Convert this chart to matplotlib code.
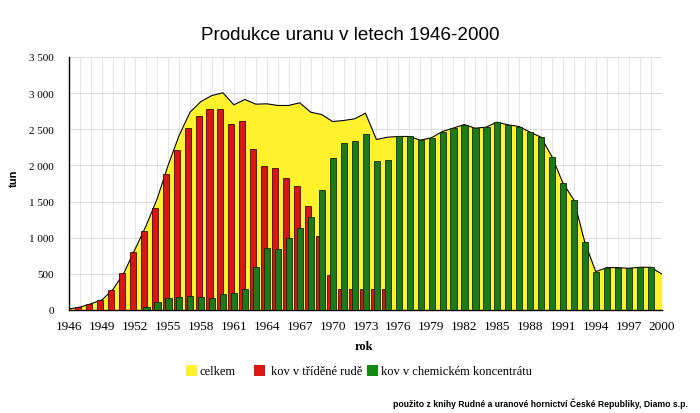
import matplotlib
matplotlib.use('Agg')
import matplotlib.pyplot as plt
from matplotlib.patches import Rectangle
from matplotlib.ticker import FuncFormatter
import numpy as np

years = list(range(1946, 2001))

celkem = [15, 41, 87, 143, 290, 521, 845, 1167, 1537, 2000,
          2413, 2736, 2884, 2967, 3004, 2838, 2912, 2847, 2852, 2829,
          2829, 2866, 2736, 2704, 2607, 2621, 2644, 2722, 2358, 2390,
          2400, 2400, 2349, 2381, 2468, 2515, 2565, 2515, 2529, 2598,
          2561, 2538, 2460, 2391, 2122, 1758, 1523, 937, 530, 586,
          586, 577, 591, 591, 500]

kov_ruda = [20, 37, 83, 138, 272, 512, 799, 1098, 1408, 1887,
            2219, 2524, 2690, 2783, 2783, 2575, 2621, 2229, 1989, 1962,
            1823, 1721, 1436, 1029, 485, 291, 290, 290, 290, 290,
            0, 0, 0, 0, 0, 0, 0, 0, 0, 0,
            0, 0, 0, 0, 0, 0, 0, 0, 0, 0,
            0, 0, 0, 0, 0]

kov_chem = [0, 0, 0, 0, 0, 0, 0, 35, 106, 162,
            185, 189, 180, 171, 222, 235, 291, 591, 854, 845,
            1001, 1135, 1287, 1665, 2109, 2312, 2344, 2432, 2058, 2081,
            2400, 2400, 2349, 2381, 2468, 2515, 2565, 2515, 2529, 2598,
            2561, 2538, 2460, 2391, 2122, 1758, 1523, 937, 530, 586,
            586, 577, 591, 591, 0]

x_ticks = list(range(1946, 2001, 3))
y_ticks = list(range(0, 3501, 500))

title = "Produkce uranu v letech 1946-2000"
legend_labels = ["celkem", "kov v tříděné rudě", "kov v chemickém koncentrátu"]
footer = "použito z knihy Rudné a uranové hornictví České Republiky, Diamo s.p."

YELLOW = "#FFF22C"
RED = "#DD1414"
GREEN = "#1C7A18"
LEG_GREEN = "#128A12"

fig = plt.figure(figsize=(7.0, 4.14), dpi=100)
fig.patch.set_facecolor("white")
ax = fig.add_axes([0.099, 0.2488, 0.8469, 0.6112])

yr = np.array(years, dtype=float)
tot = np.array(celkem, dtype=float)
red = np.array(kov_ruda, dtype=float)
grn = np.array(kov_chem, dtype=float)

ax.fill_between(yr, 0, tot, color=YELLOW, lw=0, zorder=2)
ax.plot(yr, tot, color="black", lw=0.8, zorder=2.5)

mr = red > 0
ax.bar(yr[mr] - 0.5, red[mr], width=0.55, align="edge", color=RED,
       edgecolor="#301000", linewidth=0.6, zorder=3)
mg = grn > 0
ax.bar(yr[mg] - 0.25, grn[mg], width=0.56, align="edge", color=GREEN,
       edgecolor="#0A2A08", linewidth=0.6, zorder=4)

ax.set_xlim(1945.99, 2000.05)
ax.set_ylim(0, 3500)
ax.set_xticks(x_ticks)
ax.set_xticks(years, minor=True)
ax.set_yticks(y_ticks)
ax.yaxis.set_major_formatter(FuncFormatter(lambda v, p: f"{int(v):,}".replace(",", " ")))
ax.set_axisbelow(True)
ax.grid(which="both", axis="x", color="#E0E0E0", lw=0.6)
ax.grid(which="major", axis="y", color="#D4D4D4", lw=0.6)
ax.tick_params(which="both", length=0)
ax.tick_params(axis="x", pad=7, labelsize=9.5)
ax.tick_params(axis="y", pad=11, labelsize=8)
for lab in ax.get_xticklabels() + ax.get_yticklabels():
    lab.set_fontfamily("Liberation Serif")
for s in ["top", "right"]:
    ax.spines[s].set_visible(False)
for s in ["left", "bottom"]:
    ax.spines[s].set_color("black")
    ax.spines[s].set_linewidth(1.0)

fig.text(0.5, 1 - 35 / 414, title, ha="center", va="center",
         fontsize=13.6, family="Liberation Sans")
fig.text(14 / 700, 1 - 178 / 414, "tun", rotation=90, ha="center", va="center",
         fontsize=8, fontweight="bold", family="Liberation Sans")
fig.text(364 / 700, 1 - 347 / 414, "rok", ha="center", va="center",
         fontsize=9, fontweight="bold", family="Liberation Serif")

leg_colors = [YELLOW, RED, LEG_GREEN]
sq_x = [186, 254, 367]
txt_x = [199, 271, 381]
for c, sx, tx, lab in zip(leg_colors, sq_x, txt_x, legend_labels):
    fig.patches.append(Rectangle((sx / 700, 1 - 377 / 414), 11 / 700, 11 / 414,
                                 transform=fig.transFigure, facecolor=c,
                                 edgecolor="none"))
    fig.text(tx / 700, 1 - 372 / 414, lab, ha="left", va="center",
             fontsize=9, family="Liberation Serif")

fig.text(688 / 700, 1 - 404 / 414, footer, ha="right", va="center",
         fontsize=6.2, fontweight="bold", family="Liberation Sans")

fig.savefig("out.png", dpi=100)
